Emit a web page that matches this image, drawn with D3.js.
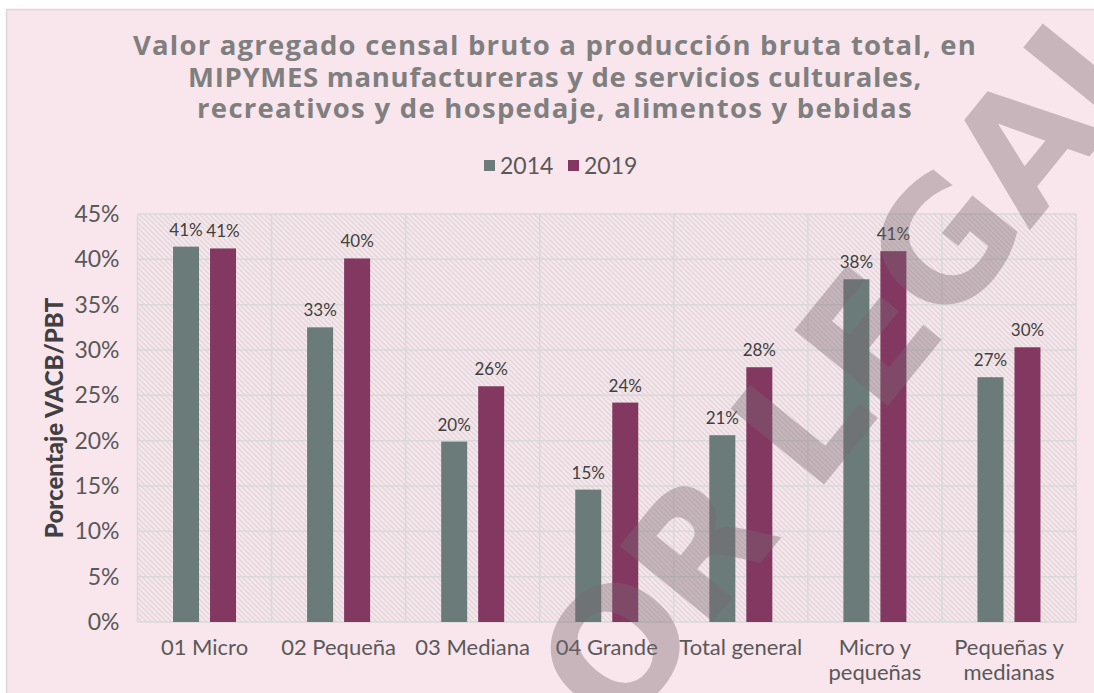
<!DOCTYPE html>
<html><head><meta charset="utf-8">
<script src="https://cdn.jsdelivr.net/npm/d3@7"></script>
<style>body{margin:0;background:#fff;} svg{display:block;}</style>
</head><body>
<svg id="chart" width="1094" height="693"></svg>
<script>
const categories = [["01 Micro"],["02 Pequeña"],["03 Mediana"],["04 Grande"],["Total general"],["Micro y","pequeñas"],["Pequeñas y","medianas"]];
const seriesNames = ["2014","2019"];
const values2014 = [41.4, 32.5, 19.9, 14.6, 20.6, 37.8, 27.0];
const values2019 = [41.2, 40.1, 26.0, 24.2, 28.1, 40.9, 30.3];
const labels2014 = ["41%","33%","20%","15%","21%","38%","27%"];
const labels2019 = ["41%","40%","26%","24%","28%","41%","30%"];
const yTicks = [0,5,10,15,20,25,30,35,40,45];
const colors = ["#6b7b7a","#833862"];
const titleLines = ["Valor agregado censal bruto a producción bruta total, en","MIPYMES manufactureras y de servicios culturales,","recreativos y de hospedaje, alimentos y bebidas"];
const titleWidths = [844, 734, 716];

const svg = d3.select("#chart");
const F = "Lato, 'Open Sans', sans-serif";
svg.append("rect").attr("x",6.5).attr("y",9.5).attr("width",1100).attr("height",700)
  .attr("fill","#f9e5ec").attr("stroke","#d9d9d9").attr("stroke-width",1.5);

const defs = svg.append("defs");
const pat = defs.append("pattern").attr("id","hatch").attr("patternUnits","userSpaceOnUse")
  .attr("width",5).attr("height",5);
pat.append("rect").attr("width",5).attr("height",5).attr("fill","#f9e5ec");
pat.append("path").attr("d","M-1,-1L6,6M-1,4L1,6M4,-1L6,1").attr("stroke","#ddd8da").attr("stroke-width",1.3);

const m = {l:137.5, r:1076, t:214, b:622};
const x = d3.scaleBand().domain(d3.range(categories.length)).range([m.l,m.r]);
const y = d3.scaleLinear().domain([0,45]).range([m.b,m.t]);

svg.append("rect").attr("x",m.l).attr("y",m.t).attr("width",m.r-m.l).attr("height",m.b-m.t).attr("fill","url(#hatch)");

// gridlines
svg.append("g").selectAll("line").data(yTicks).join("line")
  .attr("x1",m.l).attr("x2",m.r).attr("y1",d=>y(d)).attr("y2",d=>y(d))
  .attr("stroke","#d9d9d9").attr("stroke-width",1.5);
svg.append("g").selectAll("line").data(d3.range(categories.length+1)).join("line")
  .attr("x1",d=>m.l+d*x.step()).attr("x2",d=>m.l+d*x.step()).attr("y1",m.t).attr("y2",m.b)
  .attr("stroke","#d9d9d9").attr("stroke-width",1.5);

// y axis
const yAxis = d3.axisLeft(y).tickValues(yTicks).tickFormat(d=>d+"%").tickSize(0).tickPadding(18);
const ya = svg.append("g").attr("transform",`translate(${m.l},0)`).call(yAxis);
ya.select(".domain").remove();
ya.selectAll("text").attr("font-family",F).attr("font-size",23).attr("fill","#595959");

svg.append("text").attr("transform",`translate(53,${(m.t+m.b)/2}) rotate(-90)`)
  .attr("text-anchor","middle").attr("dominant-baseline","central")
  .attr("font-family",F).attr("font-weight",900).attr("font-size",24).attr("fill","#404040")
  .text("Porcentaje VACB/PBT");

// bars
const bw = 26, off = 18.5;
const series = [values2014, values2019];
const labs = [labels2014, labels2019];
series.forEach((vals,si)=>{
  const g = svg.append("g");
  g.selectAll("rect").data(vals).join("rect")
    .attr("x",(d,i)=>x(i)+x.bandwidth()/2+(si?off:-off)-bw/2)
    .attr("y",d=>y(d)).attr("width",bw).attr("height",d=>y(0)-y(d))
    .attr("fill",colors[si]);
  g.selectAll("text").data(vals).join("text")
    .attr("x",(d,i)=>x(i)+x.bandwidth()/2+(si?off:-off))
    .attr("y",d=>y(d)-11).attr("text-anchor","middle")
    .attr("font-family",F).attr("font-size",17).attr("fill","#404040")
    .text((d,i)=>labs[si][i]);
});

// x labels
categories.forEach((lines,i)=>{
  const t = svg.append("text").attr("text-anchor","middle").attr("font-family",F)
    .attr("font-size",22).attr("fill","#595959");
  lines.forEach((l,j)=>t.append("tspan").attr("x",x(i)+x.bandwidth()/2).attr("y",655+j*25).text(l));
});

// title
svg.append("g").selectAll("text").data(titleLines).join("text")
  .attr("x",555).attr("y",(d,i)=>55+i*31.5).attr("text-anchor","middle")
  .attr("font-family","'Open Sans', Lato, sans-serif").attr("font-weight",700).attr("font-size",27.5).attr("fill","#7f7f7f")
  .text(d=>d)
  .each(function(d,i){
    const w = this.getComputedTextLength();
    const n = d.length;
    d3.select(this).attr("letter-spacing", ((titleWidths[i]-w)/n).toFixed(2));
  });

// legend
const lg = svg.append("g");
seriesNames.forEach((s,i)=>{
  const lx = 484 + i*84;
  lg.append("rect").attr("x",lx).attr("y",160).attr("width",11).attr("height",11).attr("fill",colors[i]);
  lg.append("text").attr("x",lx+16).attr("y",174).attr("font-family",F).attr("font-size",23)
    .attr("fill","#595959").text(s);
});

// watermark
svg.append("text").attr("transform","translate(850,362) rotate(-51)")
  .attr("text-anchor","middle").attr("dominant-baseline","central")
  .attr("font-family","'DejaVu Sans', sans-serif").attr("font-weight",700).attr("font-size",165)
  .attr("letter-spacing",-4)
  .attr("fill","#7a6870").attr("opacity",0.38).text("OR LEGAL");
</script>
</body></html>
